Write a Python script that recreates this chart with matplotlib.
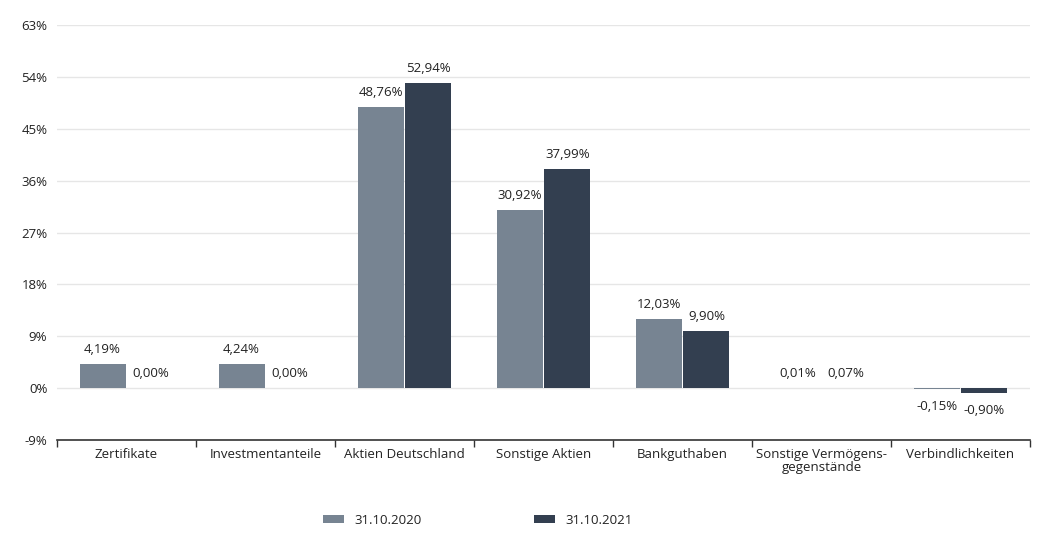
import matplotlib
matplotlib.use("Agg")
import matplotlib.pyplot as plt
import numpy as np

categories = ["Zertifikate", "Investmentanteile", "Aktien Deutschland", "Sonstige Aktien",
              "Bankguthaben", "Sonstige Vermögens-\ngegenstände", "Verbindlichkeiten"]
series_names = ["31.10.2020", "31.10.2021"]
values_2020 = [4.19, 4.24, 48.76, 30.92, 12.03, 0.01, -0.15]
values_2021 = [0.00, 0.00, 52.94, 37.99, 9.90, 0.07, -0.90]
labels_2020 = ["4,19%", "4,24%", "48,76%", "30,92%", "12,03%", "0,01%", "-0,15%"]
labels_2021 = ["0,00%", "0,00%", "52,94%", "37,99%", "9,90%", "0,07%", "-0,90%"]
yticks = [-9, 0, 9, 18, 27, 36, 45, 54, 63]
ytick_labels = ["-9%", "0%", "9%", "18%", "27%", "36%", "45%", "54%", "63%"]

colors = ["#778492", "#333f50"]
text_color = "#222222"
plt.rcParams['font.family'] = ["Open Sans", "DejaVu Sans"]

fig = plt.figure(figsize=(10.51, 5.45), dpi=100)
ax = fig.add_axes([57/1051, 1-440/545, (1030-57)/1051, (440-25)/545])

x = np.arange(len(categories))
w = 0.33
gap = 0.007
b1 = ax.bar(x - w/2 - gap, values_2020, w, color=colors[0], label=series_names[0], zorder=3)
b2 = ax.bar(x + w/2 + gap, values_2021, w, color=colors[1], label=series_names[1], zorder=3)

for bars, vals, labs in [(b1, values_2020, labels_2020), (b2, values_2021, labels_2021)]:
    for rect, v, lab in zip(bars, vals, labs):
        cx = rect.get_x() + rect.get_width()/2
        off = 10.5 if v >= 0 else -12.5
        ax.annotate(lab, (cx, v), xytext=(0, off), textcoords="offset points",
                    ha="center", va="center", fontsize=9.5, color=text_color)

ax.set_xlim(-0.5, len(categories) - 0.5)
ax.set_ylim(-9, 63)
ax.set_yticks(yticks)
ax.set_yticklabels(ytick_labels, fontsize=9.5, color=text_color)
ax.tick_params(axis='y', length=0, pad=7)
ax.set_xticks(x)
ax.set_xticklabels(categories, fontsize=9.5, color=text_color, linespacing=1.0)
ax.tick_params(axis='x', length=0, pad=6)
ax.set_xticks(np.arange(len(categories) + 1) - 0.5, minor=True)
ax.tick_params(axis='x', which='minor', length=5, width=1, color="#333333", direction='out')

ax.grid(axis='y', color="#e6e6e6", linewidth=1, zorder=0)
for s in ["top", "right", "left"]:
    ax.spines[s].set_visible(False)
ax.spines["bottom"].set_color("#333333")
ax.spines["bottom"].set_linewidth(1.2)

fig.legend(handles=[b1, b2], labels=series_names, loc="center", bbox_to_anchor=(478/1051, 1-520/545),
           ncol=2, frameon=False, fontsize=9.5, handlelength=1.6, handleheight=0.55,
           columnspacing=8.5, handletextpad=0.8, labelcolor=text_color)

fig.savefig("out.png", dpi=100)
